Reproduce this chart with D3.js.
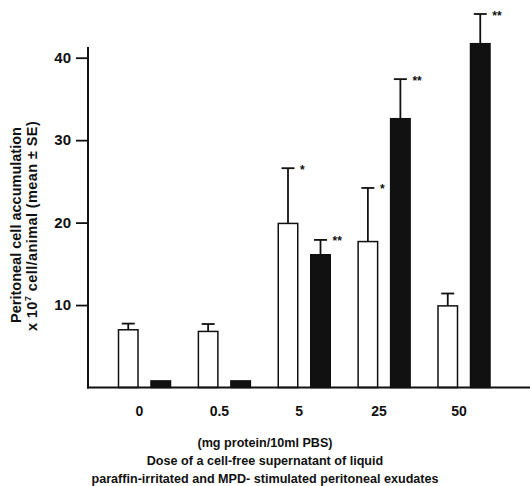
<!DOCTYPE html>
<html>
<head>
<meta charset="utf-8">
<title>Peritoneal cell accumulation</title>
<script src="https://d3js.org/d3.v7.min.js"></script>
<style>
    body { margin: 0; background: #fff; }
    svg text { font-family: "Liberation Sans", Arial, Helvetica, sans-serif; font-weight: bold; fill: #111; }
</style>
</head>
<body>
<script>
// values in 10^7 cells / animal
var doses = ["0", "0.5", "5", "25", "50"];
var groups = ["open", "closed"];
var openMean = [7.0, 6.8, 19.9, 17.7, 9.9];
var openSE = [0.75, 0.9, 6.7, 6.5, 1.5];
var closedMean = [0.8, 0.8, 16.1, 32.6, 41.7];
var closedSE = [0, 0, 1.8, 4.8, 3.6];
var openSig = ["", "", "*", "*", ""];
var closedSig = ["", "", "**", "**", "**"];
var yTicks = [10, 20, 30, 40];
var axisTop = 41.3;
var yTitle = ["Peritoneal cell accumulation", "x 10", "7", " cell/animal (mean \u00b1 SE)"];
var xTitle = ["(mg protein/10ml PBS)",
              "Dose of a cell-free supernatant of liquid",
              "paraffin-irritated and MPD- stimulated peritoneal exudates"];

var width = 530, height = 486;
var ink = "#111";

var rows = [];
doses.forEach(function(d, i) {
    rows.push({dose: d, group: "open", mean: openMean[i], se: openSE[i], sig: openSig[i]});
    rows.push({dose: d, group: "closed", mean: closedMean[i], se: closedSE[i], sig: closedSig[i]});
});

var svg = d3.select("body").append("svg")
    .attr("width", width)
    .attr("height", height);

var xScale = d3.scalePoint().domain(doses).range([144.5, 464]),
    subScale = d3.scaleBand().domain(groups).range([-26, 26]).paddingInner(0.4),
    yScale = d3.scaleLinear().domain([0, 40]).range([387.5, 57.7]);

var bw = subScale.bandwidth();
function barX(d) { return xScale(d.dose) + subScale(d.group); }
function barMid(d) { return barX(d) + bw / 2; }

// bars
svg.append("g").selectAll("rect")
    .data(rows)
    .enter()
    .append("rect")
    .attr("x", barX)
    .attr("y", function(d) { return yScale(d.mean); })
    .attr("width", bw)
    .attr("height", function(d) { return yScale(0) - yScale(d.mean); })
    .attr("fill", function(d) { return d.group == "open" ? "#fff" : ink; })
    .attr("stroke", ink)
    .attr("stroke-width", 1.5);

// error bars (upper half only)
var withErr = rows.filter(function(d) { return d.se > 0; });
var err = svg.append("g").attr("stroke", ink).attr("stroke-width", 1.8);
err.selectAll(".stem")
    .data(withErr)
    .enter()
    .append("line")
    .attr("class", "stem")
    .attr("x1", barMid).attr("x2", barMid)
    .attr("y1", function(d) { return yScale(d.mean); })
    .attr("y2", function(d) { return yScale(d.mean + d.se); });
err.selectAll(".cap")
    .data(withErr)
    .enter()
    .append("line")
    .attr("class", "cap")
    .attr("x1", function(d) { return barMid(d) - 6.5; })
    .attr("x2", function(d) { return barMid(d) + 6.5; })
    .attr("y1", function(d) { return yScale(d.mean + d.se); })
    .attr("y2", function(d) { return yScale(d.mean + d.se); });

// significance stars
svg.append("g").selectAll("text")
    .data(rows.filter(function(d) { return d.sig != ""; }))
    .enter()
    .append("text")
    .attr("x", function(d) { return barMid(d) + 12; })
    .attr("y", function(d) { return yScale(d.mean + d.se) + 5.5; })
    .attr("font-size", 12)
    .text(function(d) { return d.sig; });

// baseline
svg.append("line")
    .attr("x1", 87).attr("x2", width)
    .attr("y1", yScale(0)).attr("y2", yScale(0))
    .attr("stroke", ink)
    .attr("stroke-width", 2);

// y axis
var yAxis = d3.axisLeft(yScale).tickValues(yTicks).tickSize(12).tickPadding(5);
var yAxisGroup = svg.append("g")
    .attr("class", "yAxis")
    .attr("transform", "translate(88, 0)")
    .call(yAxis);
yAxisGroup.select(".domain").remove();
yAxisGroup.selectAll(".tick line").attr("stroke", ink).attr("stroke-width", 1.8);
yAxisGroup.selectAll(".tick text").attr("font-size", 15).attr("font-family", null);
yAxisGroup.append("line")
    .attr("y1", yScale(0) + 1).attr("y2", yScale(axisTop))
    .attr("stroke", ink)
    .attr("stroke-width", 2);

// x tick labels
svg.append("g").selectAll("text")
    .data(doses)
    .enter()
    .append("text")
    .attr("x", function(d) { return xScale(d) - 5; })
    .attr("y", 416)
    .attr("text-anchor", "middle")
    .attr("font-size", 14)
    .text(function(d) { return d; });

// y title
svg.append("text")
    .attr("transform", "translate(20.7, 225) rotate(-90)")
    .attr("text-anchor", "middle")
    .attr("font-size", 14.5)
    .text(yTitle[0]);
var yt2 = svg.append("text")
    .attr("transform", "translate(36.7, 226) rotate(-90)")
    .attr("text-anchor", "middle")
    .attr("font-size", 14.5)
    .attr("letter-spacing", 0.4);
yt2.append("tspan").text(yTitle[1]);
yt2.append("tspan").attr("font-size", 9.5).attr("dy", -6).text(yTitle[2]);
yt2.append("tspan").attr("dy", 6).text(yTitle[3]);

// x title
svg.append("g").selectAll("text")
    .data(xTitle)
    .enter()
    .append("text")
    .attr("x", 265)
    .attr("y", function(d, i) { return 447 + i * 18; })
    .attr("text-anchor", "middle")
    .attr("font-size", 12.6)
    .text(function(d) { return d; });
</script>
</body>
</html>
